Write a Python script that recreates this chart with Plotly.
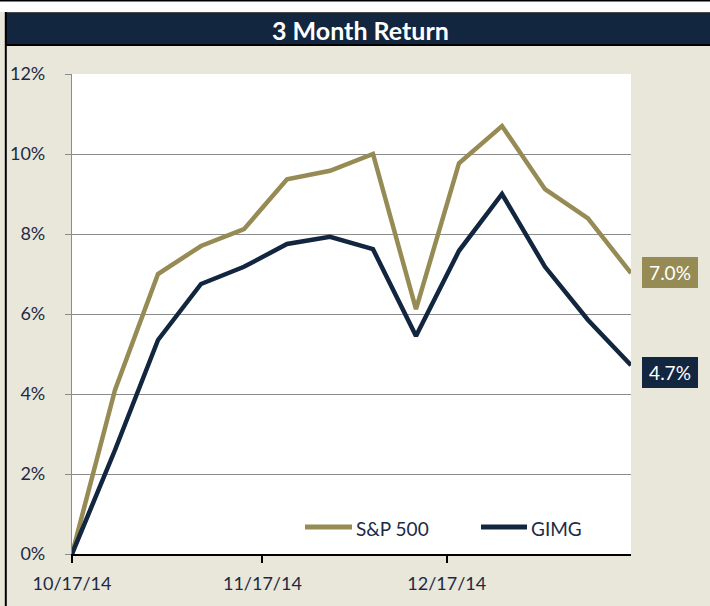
import plotly.graph_objects as go

# ---- data ----
dates = ["2014-10-17", "2014-10-24", "2014-10-31", "2014-11-07", "2014-11-14",
         "2014-11-21", "2014-11-28", "2014-12-05", "2014-12-12", "2014-12-19",
         "2014-12-26", "2015-01-02", "2015-01-09", "2015-01-16"]
sp500 = [0.0, 4.1, 7.0, 7.7, 8.12, 9.37, 9.58, 10.0, 6.12, 9.77, 10.7, 9.12, 8.39, 7.02]
gimg = [0.0, 2.6, 5.35, 6.75, 7.18, 7.75, 7.93, 7.62, 5.45, 7.58, 9.0, 7.18, 5.85, 4.72]
series_names = ["S&P 500", "GIMG"]
x_tick_vals = ["2014-10-17", "2014-11-17", "2014-12-17"]
y_tick_vals = [0, 2, 4, 6, 8, 10, 12]
y_tick_text = [f"{v}%" for v in y_tick_vals]
title_text = "3 Month Return"

# ---- style ----
GOLD = "#968b55"
NAVY = "#12263f"
BEIGE = "#e9e6da"
TXT = "#1c2b45"
GRID = "#8c8c8c"
FONT = "Lato"

W, H = 710, 606
L, R, T, B = 72, 631, 74, 554


def px(x):
    return (x - L) / (R - L)


def py(y):
    return (B - y) / (B - T)


fig = go.Figure()
fig.add_trace(go.Scatter(x=dates, y=sp500, mode="lines", name=series_names[0],
                         line=dict(color=GOLD, width=4.5), showlegend=False))
fig.add_trace(go.Scatter(x=dates, y=gimg, mode="lines", name=series_names[1],
                         line=dict(color=NAVY, width=4.5), showlegend=False))

shapes = [
    # white strip at top
    dict(type="rect", xref="paper", yref="paper", x0=px(-2), x1=px(712), y0=py(12), y1=py(-2),
         fillcolor="white", line=dict(width=0), layer="above"),
    dict(type="line", xref="paper", yref="paper", x0=px(-2), x1=px(712), y0=py(0.7), y1=py(0.7),
         line=dict(color="black", width=1.5), layer="above"),
    # title bar
    dict(type="rect", xref="paper", yref="paper", x0=px(5), x1=px(712), y0=py(46), y1=py(12),
         fillcolor=NAVY, line=dict(width=0), layer="above"),
    dict(type="line", xref="paper", yref="paper", x0=px(5), x1=px(712), y0=py(12.5), y1=py(12.5),
         line=dict(color="#4a4a4a", width=1), layer="above"),
    dict(type="line", xref="paper", yref="paper", x0=px(5), x1=px(712), y0=py(45), y1=py(45),
         line=dict(color="black", width=2), layer="above"),
    # left border
    dict(type="line", xref="paper", yref="paper", x0=px(5.8), x1=px(5.8), y0=py(12), y1=py(608),
         line=dict(color="black", width=2), layer="above"),
]

annotations = [
    dict(xref="paper", yref="paper", x=px(361), y=py(30), text="<b>" + title_text + "</b>",
         showarrow=False, font=dict(family=FONT, size=25, color="white"),
         xanchor="center", yanchor="middle"),
]

# legend (custom)
legend_items = [(series_names[0], GOLD, 305, 352), (series_names[1], NAVY, 481, 527)]
for name, col, a, b in legend_items:
    shapes.append(dict(type="line", xref="paper", yref="paper", x0=px(a), x1=px(b),
                       y0=py(527), y1=py(527), line=dict(color=col, width=5), layer="above"))
    annotations.append(dict(xref="paper", yref="paper", x=px(b + 2), y=py(528), text=name,
                            showarrow=False, xanchor="left", yanchor="middle",
                            font=dict(family=FONT, size=19, color=TXT)))

# end labels
for vals, col, shift in [(sp500, GOLD, 1), (gimg, NAVY, -7)]:
    annotations.append(dict(xref="paper", yref="y", x=px(670), y=vals[-1], yshift=shift,
                            text=f"{vals[-1]:.1f}%", showarrow=False,
                            xanchor="center", yanchor="middle",
                            bgcolor=col, borderwidth=0, borderpad=1, width=54, height=29,
                            font=dict(family=FONT, size=19, color="white")))

fig.update_layout(
    width=W, height=H, autosize=False,
    margin=dict(l=L, r=W - R, t=T, b=H - B, pad=0),
    paper_bgcolor=BEIGE, plot_bgcolor="white",
    shapes=shapes, annotations=annotations,
    showlegend=False, hovermode=False,
    xaxis=dict(
        type="date", range=[dates[0], dates[-1]],
        tickvals=x_tick_vals, tickformat="%m/%d/%y",
        showgrid=False, zeroline=False, automargin=False,
        showline=True, linecolor="black", linewidth=2,
        ticks="outside", ticklen=7, tickwidth=1.5, tickcolor="black",
        tickfont=dict(family=FONT, size=18, color=TXT),
        ticklabelstandoff=5,
    ),
    yaxis=dict(
        range=[0, 12], tickvals=y_tick_vals, ticktext=y_tick_text,
        showgrid=True, gridcolor=GRID, gridwidth=1.2, zeroline=False, automargin=False,
        showline=True, linecolor=GRID, linewidth=1.2,
        ticks="outside", ticklen=6, tickwidth=1.2, tickcolor=GRID,
        tickfont=dict(family=FONT, size=18, color=TXT),
        ticklabelstandoff=16,
    ),
)

fig.write_html("out.html", config={"displayModeBar": False},
               post_script="document.body.style.margin='0';")
